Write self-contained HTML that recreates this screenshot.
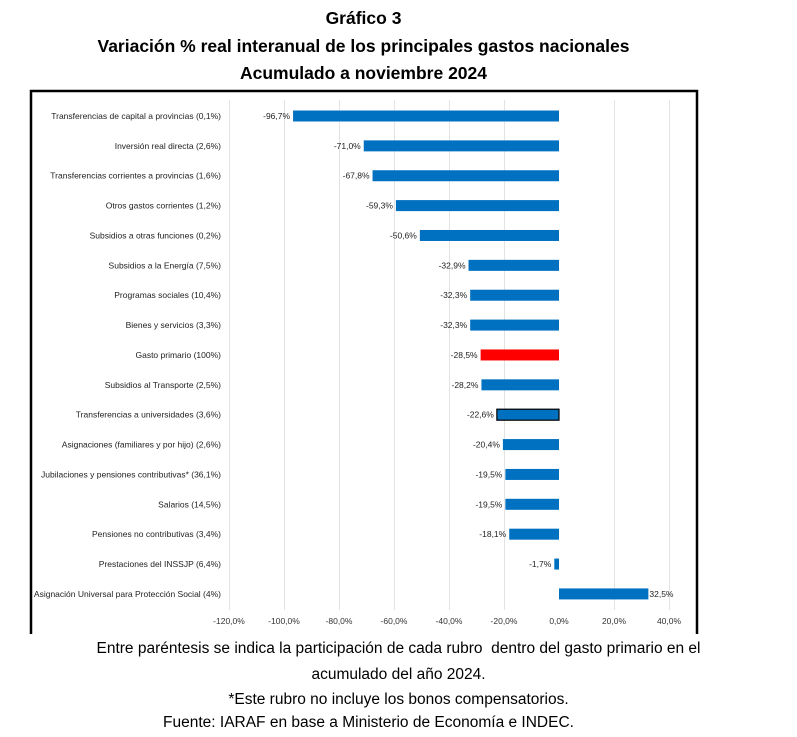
<!DOCTYPE html><html><head><meta charset="utf-8"><style>
body{margin:0;background:#fff;width:797px;height:737px;overflow:hidden;font-family:"Liberation Sans",sans-serif}
.t{position:absolute;left:-35px;width:797px;text-align:center;font-weight:bold;font-size:17.5px;color:#000}
.f{position:absolute;left:0;width:797px;text-align:center;font-size:15.5px;color:#000}
</style></head><body>
<div class="t" style="top:8px">Gráfico 3</div>
<div class="t" style="top:36px">Variación % real interanual de los principales gastos nacionales</div>
<div class="t" style="top:63px">Acumulado a noviembre 2024</div>
<svg style="position:absolute;left:0;top:0" width="797" height="737" font-family="Liberation Sans, sans-serif">
<path d="M31 634V91H697V634" fill="none" stroke="#000" stroke-width="2.5"/>
<g stroke="#e3e3e3" stroke-width="1">
<line x1="229.5" y1="100" x2="229.5" y2="610"/><line x1="284.5" y1="100" x2="284.5" y2="610"/><line x1="339.5" y1="100" x2="339.5" y2="610"/><line x1="394.5" y1="100" x2="394.5" y2="610"/><line x1="449.5" y1="100" x2="449.5" y2="610"/><line x1="504.5" y1="100" x2="504.5" y2="610"/><line x1="614.5" y1="100" x2="614.5" y2="610"/><line x1="669.5" y1="100" x2="669.5" y2="610"/>
</g>
<g font-size="8.5" fill="#333" text-anchor="middle">
<text x="229" y="624">-120,0%</text><text x="284" y="624">-100,0%</text><text x="339" y="624">-80,0%</text><text x="394" y="624">-60,0%</text><text x="449" y="624">-40,0%</text><text x="504" y="624">-20,0%</text><text x="559" y="624">0,0%</text><text x="614" y="624">20,0%</text><text x="669" y="624">40,0%</text>
</g>
<g id="rows" font-size="8.5" fill="#222"></g>
</svg>
<div class="f" style="top:640px">Entre paréntesis se indica la participación de cada rubro&nbsp; dentro del gasto primario en el</div>
<div class="f" style="top:666px">acumulado del año 2024.</div>
<div class="f" style="top:691px">*Este rubro no incluye los bonos compensatorios.</div>
<div class="f" style="top:714px;left:-30px">Fuente: IARAF en base a Ministerio de Economía e INDEC.</div>
<script>
var d=[["Transferencias de capital a provincias (0,1%)",-96.7],["Inversión real directa (2,6%)",-71.0],["Transferencias corrientes a provincias (1,6%)",-67.8],["Otros gastos corrientes (1,2%)",-59.3],["Subsidios a otras funciones (0,2%)",-50.6],["Subsidios a la Energía (7,5%)",-32.9],["Programas sociales (10,4%)",-32.3],["Bienes y servicios (3,3%)",-32.3],["Gasto primario (100%)",-28.5],["Subsidios al Transporte (2,5%)",-28.2],["Transferencias a universidades (3,6%)",-22.6],["Asignaciones (familiares y por hijo) (2,6%)",-20.4],["Jubilaciones y pensiones contributivas* (36,1%)",-19.5],["Salarios (14,5%)",-19.5],["Pensiones no contributivas (3,4%)",-18.1],["Prestaciones del INSSJP (6,4%)",-1.7],["Asignación Universal para Protección Social (4%)",32.5]];
var s="";d.forEach(function(r,i){var y=116+29.87*i,v=r[1],x0=559,x1=559+2.75*v;
var c=i==8?"#ff0000":"#0070c0",st=i==10?' stroke="#000" stroke-width="1.2"':'';
s+='<text x="221" y="'+(y+3)+'" text-anchor="end">'+r[0]+'</text>';
s+='<rect x="'+Math.min(x0,x1)+'" y="'+(y-5.5)+'" width="'+Math.abs(x1-x0)+'" height="11" fill="'+c+'"'+st+'/>';
var lab=v.toFixed(1).replace(".",",")+"%";
if(v<0)s+='<text x="'+(x1-3)+'" y="'+(y+3)+'" text-anchor="end">'+lab+'</text>';else s+='<text x="'+(x1+1)+'" y="'+(y+3)+'">'+lab+'</text>';});
document.getElementById("rows").innerHTML=s;
</script>
</body></html>
